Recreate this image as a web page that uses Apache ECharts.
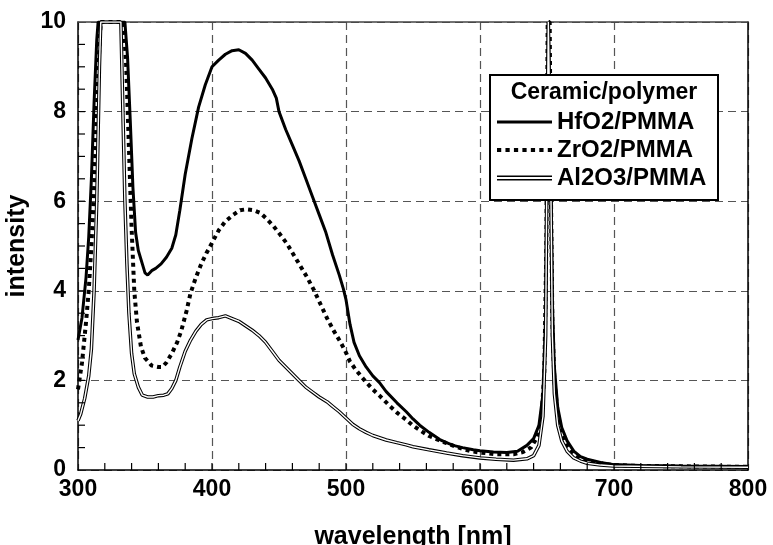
<!DOCTYPE html>
<html>
<head>
<meta charset="utf-8">
<script src="https://cdn.jsdelivr.net/npm/echarts@6/dist/echarts.min.js"></script>
<style>html,body{margin:0;padding:0;background:#fff;}#c{width:773px;height:545px;}</style>
</head>
<body>
<div id="c"></div>
<script>
// ---- data ----
const xTicks = [300, 400, 500, 600, 700, 800];
const yTicks = [0, 2, 4, 6, 8, 10];
const seriesNames = ['HfO2/PMMA', 'ZrO2/PMMA', 'Al2O3/PMMA'];

const hfWl = [300,303,306,308,310,312,314,315,320,325,330,335,337,339,341,343,345,348,350,352,355,358,362,366,370,373,376,380,385,390,395,400,405,410,415,420,425,430,435,440,445,448,450,455,460,465,470,475,480,485,490,495,498,500,503,506,510,515,520,525,530,538,545,550,555,562,570,575,580,587,595,600,610,620,628,635,640,644,647,649,650,651,652,653,654,655.5,658,661,665,670,675,680,690,700,720,750,800];
const hfVal = [2.9,3.4,4.3,5.2,6.5,8.2,9.6,10,10,10,10,10,9.2,7.8,6.3,5.3,4.9,4.6,4.4,4.35,4.45,4.5,4.6,4.75,4.95,5.25,5.8,6.6,7.4,8.1,8.6,9.0,9.15,9.28,9.36,9.38,9.3,9.15,8.95,8.75,8.5,8.3,8.0,7.6,7.25,6.9,6.5,6.1,5.7,5.3,4.8,4.35,4.05,3.8,3.25,2.85,2.55,2.3,2.1,1.95,1.75,1.5,1.3,1.14,1.0,0.84,0.68,0.61,0.55,0.5,0.45,0.43,0.4,0.39,0.42,0.55,0.7,1.0,1.7,3.5,7,10,10,6.5,3.8,2.3,1.4,0.95,0.65,0.42,0.3,0.24,0.17,0.12,0.1,0.09,0.08];

const zrWl = [300,303,306,308,310,312,314,316,317,320,330,334,336,338,340,342,344,347,350,355,360,363,366,370,374,377,381,384,388,392,396,400,405,410,416,421,426,431,436,441,446,451,456,461,466,471,476,481,486,491,496,500,503,507,513,520,525,532,538,545,550,556,562,569,575,581,587,593,600,612,625,632,638,643,646,648,649.5,650.5,652,653,654,655.5,658,661,665,670,675,680,690,700,720,800];
const zrVal = [1.8,2.4,3.3,4.0,5.0,6.3,8.0,9.5,10,10,10,10,9.0,7.2,5.4,4.0,3.3,2.75,2.5,2.33,2.3,2.3,2.4,2.6,2.85,3.1,3.55,3.95,4.3,4.6,4.85,5.07,5.35,5.55,5.7,5.8,5.82,5.8,5.74,5.6,5.44,5.25,5.05,4.8,4.55,4.3,4.02,3.7,3.38,3.1,2.85,2.62,2.42,2.25,2.03,1.8,1.66,1.45,1.28,1.12,0.99,0.87,0.76,0.67,0.6,0.53,0.47,0.42,0.39,0.35,0.35,0.4,0.5,0.75,1.2,2.2,5,10,10,6,3.3,2.0,1.25,0.85,0.55,0.36,0.27,0.21,0.15,0.11,0.09,0.07];

const alWl = [300,302,305,308,310,312,314,316,317,320,330,332,333.5,335,336.5,338,340,342,345,348,352,356,360,364,367,370,373,376,380,384,388,392,396,400,405,410,415,420,425,430,435,440,445,450,455,460,465,470,475,480,486,490,495,500,505,510,515,520,525,530,538,545,550,562,575,587,600,612,625,635,640,644,647,649,650,651,652,653,654,655.5,658,661,665,670,675,680,690,700,750,800];
const alVal = [1.1,1.25,1.6,2.1,2.7,4.0,6.0,9.0,10,10,10,10,8.0,6.0,4.6,3.5,2.6,2.15,1.85,1.67,1.63,1.63,1.66,1.67,1.7,1.82,2.0,2.3,2.65,2.9,3.1,3.25,3.35,3.38,3.4,3.44,3.38,3.32,3.22,3.12,3.0,2.85,2.65,2.45,2.3,2.15,2.0,1.85,1.74,1.63,1.52,1.42,1.3,1.16,1.02,0.92,0.84,0.77,0.72,0.67,0.61,0.56,0.52,0.45,0.38,0.32,0.27,0.24,0.22,0.25,0.32,0.55,1.2,3.0,7,10,10,6,3.0,1.7,1.0,0.65,0.42,0.27,0.2,0.15,0.11,0.09,0.07,0.06];

const pairs = (xs, ys) => xs.map((x, i) => [x, ys[i]]);
const FONT = 'Liberation Sans';

// tick mark positions (major + minor) for the inward tick marks
const subdiv = (arr, n) => { const out = []; for (let i = 0; i < arr.length - 1; i++) for (let k = 1; k < n; k++) out.push(arr[i] + (arr[i + 1] - arr[i]) * k / n); return out; };
const xTickMarks = xTicks.slice(1, -1).concat(subdiv(xTicks, 5));
const yTickMarks = yTicks.slice(1, -1).concat(subdiv(yTicks, 4));

const chart = echarts.init(document.getElementById('c'));
chart.setOption({
  animation: false,
  grid: {left: 78, right: 25, top: 22, bottom: 75, containLabel: false, outerBoundsMode: 'none'},
  xAxis: [{
    type: 'value', position: 'bottom', min: xTicks[0], max: xTicks[xTicks.length - 1], interval: 100,
    name: 'wavelength [nm]', nameLocation: 'middle', nameGap: 55,
    nameTextStyle: {fontFamily: FONT, fontWeight: 'bold', fontSize: 25, color: '#000'},
    axisLine: {show: true, onZero: false, lineStyle: {color: '#000', width: 1.5}},
    axisTick: {show: false},
    axisLabel: {fontFamily: FONT, fontWeight: 'bold', fontSize: 23, color: '#000', margin: 8},
    splitLine: {show: true, lineStyle: {color: '#555', type: [8, 5], width: 1.2}}
  }, {
    type: 'value', position: 'top', min: xTicks[0], max: xTicks[xTicks.length - 1], interval: 100,
    axisLine: {show: true, onZero: false, lineStyle: {color: '#444', width: 1.5}},
    axisTick: {show: false}, axisLabel: {show: false}, splitLine: {show: false}
  }],
  yAxis: [{
    type: 'value', position: 'left', min: yTicks[0], max: yTicks[yTicks.length - 1], interval: 2,
    name: 'intensity', nameLocation: 'middle', nameGap: 45,
    nameTextStyle: {fontFamily: FONT, fontWeight: 'bold', fontSize: 25, color: '#000'},
    axisLine: {show: true, onZero: false, lineStyle: {color: '#000', width: 1.5}},
    axisTick: {show: false},
    axisLabel: {fontFamily: FONT, fontWeight: 'bold', fontSize: 23, color: '#000', margin: 12},
    splitLine: {show: true, lineStyle: {color: '#555', type: [8, 5], width: 1.2}}
  }, {
    type: 'value', position: 'right', min: yTicks[0], max: yTicks[yTicks.length - 1], interval: 2,
    axisLine: {show: true, onZero: false, lineStyle: {color: '#000', width: 1.5}},
    axisTick: {show: false}, axisLabel: {show: false}, splitLine: {show: false}
  }],
  legend: {
    orient: 'vertical', left: 497, top: 110, itemWidth: 55, itemHeight: 6, itemGap: 4,
    padding: 0, z: 6,
    textStyle: {fontFamily: FONT, fontWeight: 'bold', fontSize: 24, color: '#000', lineHeight: 24},
    data: [
      {name: seriesNames[0], icon: 'path://M0,0H55V3H0Z'},
      {name: seriesNames[1], icon: 'path://M0,0H4V4H0ZM8,0H12V4H8ZM16,0H20V4H16ZM24,0H28V4H24ZM32,0H36V4H32ZM40,0H44V4H40ZM48,0H52V4H48Z'},
      {name: seriesNames[2], icon: 'path://M0,0H55V1.5H0ZM0,3.5H55V5H0Z'}
    ]
  },
  graphic: [
    {type: 'rect', z: 5, shape: {x: 490, y: 75, width: 228, height: 125},
     style: {fill: '#fff', stroke: '#000', lineWidth: 2}},
    {type: 'text', z: 6, x: 604, y: 93,
     style: {text: 'Ceramic/polymer', fill: '#000', font: 'bold 23px "Liberation Sans"', textAlign: 'center', textVerticalAlign: 'middle'}}
  ],
  series: [
    {name: seriesNames[0], type: 'line', data: pairs(hfWl, hfVal), symbol: 'none', z: 3,
     lineStyle: {color: '#000', width: 3}, itemStyle: {color: '#000'}},
    {name: seriesNames[1], type: 'line', data: pairs(zrWl, zrVal), symbol: 'none', z: 3,
     lineStyle: {color: '#000', width: 4, type: [4, 4], cap: 'butt'}, itemStyle: {color: '#000'}},
    {name: seriesNames[2], type: 'line', data: pairs(alWl, alVal), symbol: 'none', z: 3,
     lineStyle: {color: '#000', width: 3.5}, itemStyle: {color: '#000'}},
    {name: 'al-inner', type: 'line', data: pairs(alWl, alVal), symbol: 'none', z: 3,
     lineStyle: {color: '#fff', width: 1.4}, itemStyle: {color: '#fff'}, silent: true},
    {name: 'xticks', type: 'custom', silent: true, z: 10, clip: false,
     data: xTickMarks.map(v => [v, yTicks[0]]),
     renderItem: function (params, api) {
       const p = api.coord([api.value(0), api.value(1)]);
       return {type: 'rect', shape: {x: p[0] - 0.6, y: p[1] - 7, width: 1.2, height: 7}, style: {fill: '#000'}};
     }},
    {name: 'yticks', type: 'custom', silent: true, z: 10, clip: false,
     data: yTickMarks.map(v => [xTicks[0], v]),
     renderItem: function (params, api) {
       const p = api.coord([api.value(0), api.value(1)]);
       return {type: 'rect', shape: {x: p[0], y: p[1] - 0.6, width: 7, height: 1.2}, style: {fill: '#000'}};
     }}
  ]
});
</script>
</body>
</html>
